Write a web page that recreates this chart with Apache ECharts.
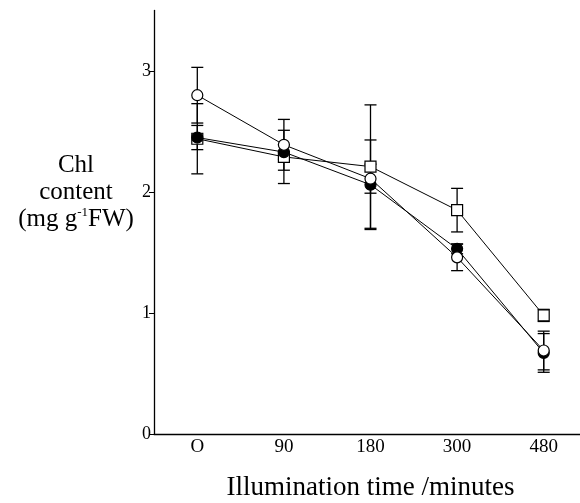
<!DOCTYPE html>
<html>
<head>
<meta charset="utf-8">
<script src="https://cdn.jsdelivr.net/npm/echarts@6/dist/echarts.min.js"></script>
<style>
  html, body { margin: 0; padding: 0; background: #fff; }
  #chart { width: 580px; height: 503px; }
</style>
</head>
<body>
<div id="chart"></div>
<script>
  // illumination time categories
  var times = ['O', '90', '180', '300', '480'];
  var yTicks = [0, 1, 2, 3];

  // open circles
  var openCircle = [2.80, 2.39, 2.11, 1.46, 0.69];
  var openCircleErr = [0.23, 0.21, 0.12, 0.11, 0.16];
  // filled circles
  var filledCircle = [2.45, 2.33, 2.06, 1.53, 0.67];
  var filledCircleErr = [0.10, 0.06, 0.37, 0.04, 0.16];
  // open squares
  var openSquare = [2.44, 2.29, 2.21, 1.85, 0.98];
  var openSquareErr = [0.29, 0.22, 0.51, 0.18, 0.05];

  var mChart = echarts.init(document.getElementById('chart'));

  function errData(vals, errs) {
    var out = [];
    for (var i = 0; i < vals.length; i++) {
      out.push([i, vals[i] - errs[i], vals[i] + errs[i]]);
    }
    return out;
  }

  // draws a vertical bar with caps
  function renderErr(params, api) {
    var lo = api.coord([api.value(0), api.value(1)]);
    var hi = api.coord([api.value(0), api.value(2)]);
    var w = 6;
    var st = { stroke: '#000', lineWidth: 1.3 };
    return {
      type: 'group',
      children: [
        { type: 'line', shape: { x1: lo[0], y1: lo[1], x2: hi[0], y2: hi[1] }, style: st },
        { type: 'line', shape: { x1: lo[0] - w, y1: lo[1], x2: lo[0] + w, y2: lo[1] }, style: st },
        { type: 'line', shape: { x1: hi[0] - w, y1: hi[1], x2: hi[0] + w, y2: hi[1] }, style: st }
      ]
    };
  }

  function errSeries(vals, errs) {
    return {
      type: 'custom',
      renderItem: renderErr,
      data: errData(vals, errs),
      z: 1,
      silent: true
    };
  }

  function lineSeries(name, vals, symbol, fill) {
    return {
      name: name,
      type: 'line',
      data: vals,
      symbol: symbol,
      symbolSize: 11,
      lineStyle: { color: '#000', width: 1 },
      itemStyle: { color: fill, borderColor: '#000', borderWidth: 1.2 },
      z: 3,
      animation: false
    };
  }

  var serif = 'Liberation Serif';

  var option = {
    animation: false,
    grid: { left: 154, top: 10.5, width: 433, height: 423.5, outerBoundsMode: 'none', containLabel: false },
    xAxis: {
      type: 'category',
      data: times,
      boundaryGap: true,
      axisLine: { lineStyle: { color: '#000', width: 1.3 } },
      axisTick: { alignWithLabel: true, length: 5, lineStyle: { color: '#000' } },
      axisLabel: { color: '#000', fontFamily: serif, fontSize: 19, margin: 4 },
      name: 'Illumination time /minutes',
      nameLocation: 'middle',
      nameGap: 40,
      nameTextStyle: { color: '#000', fontFamily: serif, fontSize: 27 },
      splitLine: { show: false }
    },
    yAxis: {
      type: 'value',
      min: 0,
      max: 3.5,
      interval: 1,
      axisLine: { show: true, lineStyle: { color: '#000', width: 1.3 } },
      axisTick: { show: true, length: 5, lineStyle: { color: '#000' } },
      axisLabel: {
        color: '#000', fontFamily: serif, fontSize: 18, margin: 3,
        showMaxLabel: false,
        formatter: function (v) { return yTicks.indexOf(v) >= 0 ? String(v) : ''; }
      },
      splitLine: { show: false }
    },
    graphic: [{
      type: 'text',
      x: 76,
      y: 152,
      style: {
        text: 'Chl\ncontent\n{m|(mg g}{s|-1}{m|FW)}',
        align: 'center',
        fontFamily: serif,
        fontSize: 25,
        lineHeight: 27,
        fill: '#000',
        rich: {
          m: { fontFamily: serif, fontSize: 25, lineHeight: 27 },
          s: { fontFamily: serif, fontSize: 13, verticalAlign: 'top', lineHeight: 22 }
        }
      }
    }],
    series: [
      errSeries(openSquare, openSquareErr),
      errSeries(filledCircle, filledCircleErr),
      errSeries(openCircle, openCircleErr),
      lineSeries('square', openSquare, 'rect', '#fff'),
      lineSeries('filled', filledCircle, 'circle', '#000'),
      lineSeries('open', openCircle, 'circle', '#fff')
    ]
  };

  mChart.setOption(option);
</script>
</body>
</html>
